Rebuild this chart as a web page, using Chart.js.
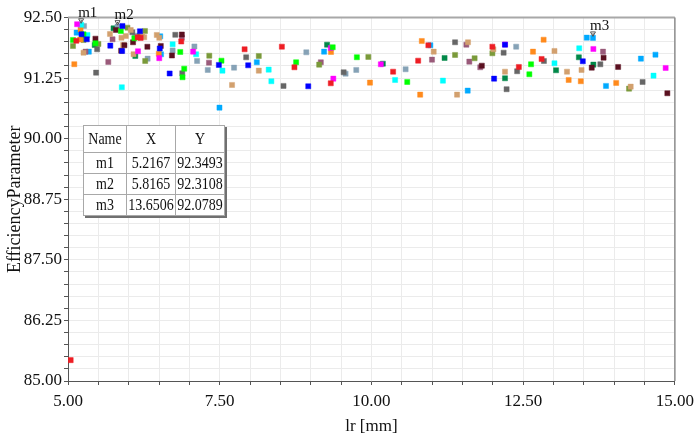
<!DOCTYPE html>
<html><head><meta charset="utf-8">
<script src="https://cdn.jsdelivr.net/npm/chart.js@4"></script>
<style>
html,body{margin:0;padding:0;background:#fff;}
#wrap{position:relative;width:700px;height:440px;}
#c{width:700px;height:440px;display:block;}
#tbl{position:absolute;left:83px;top:125px;border-collapse:collapse;table-layout:fixed;width:140px;background:#fff;font-family:"Liberation Serif","Times New Roman",serif;font-size:14px;color:#111;box-shadow:2px 2px 0 #707070;border:1px solid #8a8a8a;}
#tbl td{border:1px solid #a8a8a8;text-align:center;padding:0;font-weight:normal;line-height:18px;white-space:nowrap;overflow:visible;}
#tbl td span{display:inline-block;transform:scaleY(1.18);}
#tbl tr.h td{height:26px;}
#tbl tr.r td{height:20px;}
</style></head><body>
<div id="wrap"><canvas id="c" width="700" height="440"></canvas><table id="tbl"></table></div>
<script>
// ---- axis ranges and tick labels ----
const xTickLabels = [5.0, 7.5, 10.0, 12.5, 15.0];
const yTickLabels = [85.0, 86.25, 87.5, 88.75, 90.0, 91.25, 92.5];

// ---- markers ----
const markerNames = ['m1', 'm2', 'm3'];
const markerX = [5.2167, 5.8165, 13.6506];
const markerY = [92.3493, 92.3108, 92.0789];

// ---- series (x = lr [mm], y = EfficiencyParameter) ----
const redPts = [[5.137,92.02],[6.148,92.09],[6.197,92.08],[6.866,92.005],[7.910,91.844],[8.524,91.898],[8.731,91.473],[9.330,91.143],[10.357,91.382],[10.770,91.609],[10.938,91.927],[11.993,91.898],[12.429,91.479],[12.804,91.644],[5.044,85.43]];
const bluePts = [[5.223,92.154],[5.310,92.05],[5.897,92.325],[6.186,92.215],[5.697,91.919],[5.892,91.809],[6.512,91.861],[6.675,91.345],[7.486,91.521],[7.969,91.514],[8.959,91.081],[12.021,91.238],[12.201,91.939],[13.483,91.597]];
const greenPts = [[5.082,92.036],[5.256,92.154],[5.452,91.968],[5.871,92.222],[6.093,92.071],[6.850,91.789],[6.915,91.444],[6.887,91.267],[7.529,91.609],[8.759,91.576],[9.362,91.886],[9.76,91.68],[10.590,91.170],[12.630,91.535],[12.602,91.329]];
const magentaPts = [[5.150,92.362],[6.153,91.803],[6.504,91.661],[7.062,91.795],[9.330,91.871],[9.372,91.238],[10.155,91.535],[12.201,91.943],[13.657,91.851],[14.848,91.459]];
const cyanPts = [[5.2167,92.3493],[5.321,92.139],[5.887,91.061],[6.724,91.947],[7.111,91.741],[7.545,91.403],[8.307,91.424],[8.351,91.185],[10.390,91.211],[11.178,91.197],[13.016,91.556],[13.424,91.865],[14.648,91.300]];
const maroonPts = [[5.452,92.063],[5.790,92.242],[6.072,91.989],[5.930,91.927],[5.876,91.815],[6.308,91.896],[6.529,91.912],[6.713,91.716],[6.876,92.149],[11.819,91.506],[13.630,91.465],[13.825,91.671],[14.065,91.479],[14.876,90.937]];
const orangePts = [[5.202,92.046],[5.207,92.253],[5.104,91.537],[6.496,91.752],[9.334,91.789],[9.976,91.156],[10.830,92.015],[10.803,90.908],[12.662,91.795],[12.837,92.042],[13.250,91.211],[13.450,91.185],[14.033,91.150]];
const tanPts = [[5.256,91.774],[5.692,92.160],[5.881,92.083],[6.034,92.242],[5.953,92.119],[6.223,92.112],[6.256,92.092],[5.909,91.933],[6.080,91.743],[6.463,92.139],[6.504,92.081],[7.703,91.108],[8.144,91.403],[11.026,91.795],[11.411,90.908],[11.591,91.989],[12.010,91.844],[12.201,91.382],[13.016,91.809],[13.222,91.382],[13.462,91.418],[14.272,91.073]];
const grayPts = [[5.463,91.362],[5.480,91.844],[6.060,92.195],[6.768,92.143],[6.883,91.349],[7.936,91.679],[8.551,91.088],[9.542,91.370],[11.378,91.989],[12.178,91.774],[12.401,91.391],[12.227,91.020],[12.842,91.603],[13.772,91.535],[14.468,91.170]];
const olivePts = [[5.082,91.912],[5.256,92.036],[5.501,91.954],[5.98,92.29],[6.268,92.222],[6.181,92.119],[6.272,91.603],[7.328,91.712],[8.144,91.706],[9.139,91.527],[9.949,91.686],[11.378,91.727],[11.700,91.659],[11.993,91.762],[14.245,91.032]];
const mauvePts = [[5.289,91.795],[5.664,91.582],[5.734,92.051],[6.876,92.081],[7.323,91.568],[9.166,91.576],[10.998,91.630],[11.564,91.939],[11.613,91.589],[11.793,91.473],[13.816,91.795]];
const skyPts = [[5.142,92.187],[5.343,91.795],[6.520,92.112],[6.533,91.741],[7.496,90.640],[8.111,91.576],[9.220,91.795],[10.971,91.927],[11.586,90.991],[13.548,92.084],[13.6506,92.0789],[13.865,91.088],[14.440,91.651],[14.680,91.733]];
const steelPts = [[5.264,92.325],[5.8165,92.3108],[6.104,92.125],[6.312,91.651],[6.724,91.820],[7.083,91.902],[7.127,91.603],[7.303,91.418],[7.736,91.465],[8.927,91.782],[9.574,91.341],[9.750,91.418],[10.563,91.432],[12.385,91.898]];
const darkGreenPts = [[5.245,92.125],[5.440,91.933],[5.750,92.277],[6.109,91.706],[9.269,91.939],[10.188,91.547],[11.205,91.665],[12.201,91.246],[13.042,91.411],[13.418,91.679],[13.657,91.527]];

const seriesList = [
  ['Series 1', redPts, '#ee1d24'],
  ['Series 2', bluePts, '#0000ff'],
  ['Series 3', greenPts, '#00ff00'],
  ['Series 4', magentaPts, '#ff00ff'],
  ['Series 5', cyanPts, '#00ffff'],
  ['Series 6', maroonPts, '#5a1020'],
  ['Series 7', orangePts, '#ff8a1c'],
  ['Series 8', tanPts, '#d2a06e'],
  ['Series 9', grayPts, '#666666'],
  ['Series 10', olivePts, '#7a9a3a'],
  ['Series 11', mauvePts, '#9a5a7a'],
  ['Series 12', skyPts, '#00aaff'],
  ['Series 13', steelPts, '#86a2b6'],
  ['Series 14', darkGreenPts, '#008848']
];

function hexA(hex, a){
  const n = parseInt(hex.slice(1),16);
  return `rgba(${(n>>16)&255},${(n>>8)&255},${n&255},${a})`;
}
function isLabel(v, list){ return list.some(L => Math.abs(v-L) < 1e-6); }

const datasets = seriesList.map(([name, pts, col]) => ({
  label: name,
  data: pts.map(p => ({x:p[0], y:p[1]})),
  pointStyle: 'rect',
  pointRadius: 3.6,
  pointBackgroundColor: col,
  pointBorderColor: hexA(col, 0.45),
  pointBorderWidth: 1,
  showLine: false
}));

const FONT = '"Liberation Serif","Times New Roman",serif';

const framePlugin = {
  id: 'frame',
  afterDatasetsDraw(chart){
    const {ctx, chartArea:{left,right,top,bottom}} = chart;
    ctx.save();
    ctx.strokeStyle = '#a8a8a8'; ctx.lineWidth = 2;
    ctx.beginPath(); ctx.moveTo(left, top); ctx.lineTo(right, top); ctx.stroke();
    ctx.strokeStyle = '#8c8c8c'; ctx.lineWidth = 1.5;
    ctx.beginPath(); ctx.moveTo(right, top); ctx.lineTo(right, bottom); ctx.stroke();
    const xs = chart.scales.x, ys = chart.scales.y;
    markerNames.forEach((n, i) => {
      const px = xs.getPixelForValue(markerX[i]);
      const py = ys.getPixelForValue(markerY[i]);
      ctx.strokeStyle = '#555'; ctx.lineWidth = 1;
      ctx.beginPath();
      ctx.moveTo(px-2.5, py-6); ctx.lineTo(px+2.5, py-6); ctx.lineTo(px, py-1.5); ctx.closePath();
      ctx.stroke();
      ctx.fillStyle = '#222';
      ctx.fillRect(px-0.5, py-4.5, 1.2, 1.2);
      ctx.fillStyle = '#111';
      ctx.font = '15px ' + FONT;
      ctx.textAlign = 'left'; ctx.textBaseline = 'alphabetic';
      ctx.fillText(n, px-3, py-8);
    });
    ctx.restore();
  }
};

new Chart(document.getElementById('c'), {
  type: 'scatter',
  data: { datasets },
  options: {
    responsive: false,
    animation: false,
    layout: { padding: { left: 0, right: 19, top: 17.5, bottom: 0 } },
    plugins: { legend: { display: false }, tooltip: { enabled: false } },
    scales: {
      x: {
        type: 'linear', min: 5, max: 15,
        ticks: {
          stepSize: 0.5, autoSkip: false, maxRotation: 0, padding: 6,
          color: '#111', font: { family: FONT, size: 17 },
          callback: v => isLabel(v, xTickLabels) ? Number(v).toFixed(2) : ''
        },
        grid: { color: '#ebebeb', tickColor: '#555', tickLength: 4, drawTicks: true },
        border: { color: '#555', width: 1 },
        title: { display: true, text: 'lr [mm]', color: '#111', font: { family: FONT, size: 17 }, padding: { top: 0, bottom: 3 } },
        afterFit: s => { s.height = 59; }
      },
      y: {
        type: 'linear', min: 85, max: 92.5,
        ticks: {
          stepSize: 0.25, autoSkip: false, padding: 2,
          color: '#111', font: { family: FONT, size: 17 },
          callback: v => isLabel(v, yTickLabels) ? Number(v).toFixed(2) : ''
        },
        grid: { color: '#ebebeb', tickColor: '#555', tickLength: 4, drawTicks: true },
        border: { color: '#555', width: 1 },
        title: { display: true, text: 'EfficiencyParameter', color: '#111', font: { family: FONT, size: 18 }, padding: { top: 4, bottom: 0 } },
        afterFit: s => { s.width = 68; }
      }
    }
  },
  plugins: [framePlugin]
});

// ---- marker table ----
const tbl = document.getElementById('tbl');
let html = '<tr class="h"><td style="width:42px"><span>Name</span></td><td style="width:48px"><span>X</span></td><td style="width:48px"><span>Y</span></td></tr>';
markerNames.forEach((n, i) => {
  html += `<tr class="r"><td><span>${n}</span></td><td><span>${markerX[i].toFixed(4)}</span></td><td><span>${markerY[i].toFixed(4)}</span></td></tr>`;
});
tbl.innerHTML = html;
</script>
</body></html>
